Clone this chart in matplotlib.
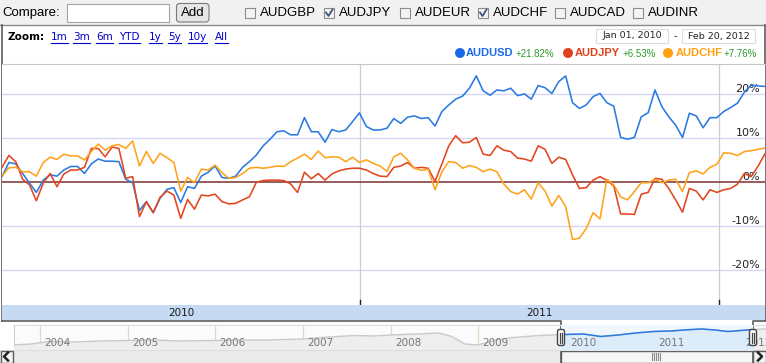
import matplotlib
matplotlib.use('Agg')
import matplotlib.pyplot as plt
import matplotlib.transforms as mtrans
from matplotlib.patches import Rectangle, Circle, FancyBboxPatch
import numpy as np
import pandas as pd

W, H = 766, 363

# weekly % change since Jan 01, 2010
weeks = pd.date_range('2010-01-01', periods=112, freq='7D')
audusd = [1.3, 4.5, 4.2, 2.0, -0.2, -2.3, 0.5, 1.7, 1.4, 2.8, 3.6, 3.6, 2.0, 4.2, 5.3, 4.8, 4.8, 4.7, 0.7,
          -0.1, -6.4, -4.4, -6.9, -3.6, -1.6, -1.2, -4.6, -1.0, -1.4, 1.4, 2.3, 3.7, 1.1, 0.9, 1.4, 3.4, 4.7, 6.2,
          8.3, 9.8, 11.5, 11.7, 10.8, 10.8, 14.7, 11.5, 11.5, 9.1, 12.0, 11.5, 11.9, 13.8, 15.8, 12.7, 11.9, 11.9, 12.3,
          14.5, 13.4, 14.8, 15.1, 14.5, 14.7, 12.8, 16.1, 17.6, 18.9, 19.6, 21.4, 24.2, 20.8, 19.8, 21.0, 20.8, 21.4,
          19.7, 20.1, 18.9, 22.0, 21.5, 20.2, 22.9, 24.2, 18.1, 16.8, 17.6, 19.5, 20.2, 18.1, 17.3, 10.2, 9.8, 10.2, 14.9,
          15.8, 21.0, 17.2, 14.9, 13.0, 10.2, 15.7, 15.1, 12.4, 14.7, 14.7, 16.1, 17.0, 18.0, 20.5, 22.1, 21.9, 21.8]
audjpy = [3.4, 6.1, 4.7, 0.7, -0.6, -4.2, -0.2, 2.0, -1.0, 1.9, 2.8, 2.8, 3.4, 7.7, 7.7, 5.8, 8.0, 7.7, 0.9,
          1.3, -7.8, -4.4, -6.9, -3.4, -2.0, -2.9, -8.2, -3.9, -6.1, -2.9, -3.1, -2.7, -4.4, -4.9, -4.8, -4.0, -3.3, 0.0,
          0.4, 0.5, 0.5, 0.4, -0.4, -2.3, 2.3, 0.8, 2.0, 0.5, 1.9, 2.6, 3.0, 3.2, 3.2, 2.8, 2.0, 1.4, 1.3,
          3.4, 3.7, 4.5, 3.2, 3.4, 3.2, 0.2, 4.2, 8.3, 10.6, 9.0, 9.1, 10.2, 6.4, 6.1, 8.3, 7.3, 7.0,
          5.5, 5.3, 4.8, 8.3, 7.5, 4.3, 5.7, 5.2, 1.7, -1.4, -1.2, 0.5, 1.3, 0.4, -0.8, -7.2, -7.2, -7.3, -2.7,
          -2.3, 0.9, 0.7, -1.4, -4.0, -6.8, -1.4, -2.0, -4.0, -1.7, -2.3, -1.7, -1.4, -0.4, 2.0, 1.3, 3.7, 6.5]
audchf = [1.4, 3.3, 3.4, 2.4, 2.4, 1.4, 4.5, 5.7, 5.2, 6.4, 6.0, 6.0, 5.1, 7.0, 8.7, 7.3, 8.3, 8.6, 7.7,
          9.4, 3.7, 7.0, 4.3, 6.6, 5.6, 4.5, -2.0, 1.1, -0.1, 3.0, 2.8, 3.9, 2.2, 0.9, 1.1, 2.0, 3.2, 3.4,
          3.2, 3.4, 3.7, 3.6, 4.7, 5.5, 6.4, 5.2, 7.1, 5.6, 5.8, 5.7, 4.7, 5.7, 4.5, 5.1, 4.3, 3.7, 2.5,
          5.8, 6.6, 5.1, 3.2, 2.7, 3.0, -1.7, 2.4, 4.7, 4.5, 3.2, 3.8, 3.4, 2.4, 3.0, 2.4, -0.4, -2.1,
          -2.7, -1.7, -3.8, -0.1, -2.0, -5.4, -3.0, -5.5, -13.0, -12.7, -10.5, -6.9, -8.3, 0.7, -0.6, -3.3, -4.0, -2.1, -0.1,
          -0.1, 0.7, -0.1, 0.5, 0.7, -2.1, 2.2, 2.6, 1.9, 3.4, 4.1, 6.7, 6.6, 6.1, 7.0, 7.2, 7.5, 7.8]

series_names = ['AUDUSD', 'AUDJPY', 'AUDCHF']
series_changes = ['+21.82%', '+6.53%', '+7.76%']
line_colors = ['#2a7ae2', '#e3461f', '#ffa21c']
dot_colors = ['#1a6ae8', '#e0401a', '#ffa010']

compare_pairs = ['AUDGBP', 'AUDJPY', 'AUDEUR', 'AUDCHF', 'AUDCAD', 'AUDINR']
compare_checked = [False, True, False, True, False, False]
zoom_links = ['1m', '3m', '6m', 'YTD', '1y', '5y', '10y', 'All']
y_ticks = [20, 10, 0, -10, -20]
range_from, range_to = 'Jan 01, 2010', 'Feb 20, 2012'

# overview strip (AUDUSD level, decimal years)
nav_t = [2003.70, 2003.9, 2004.1, 2004.4, 2004.7, 2005.0, 2005.3, 2005.6, 2006.0, 2006.3, 2006.6,
         2007.0, 2007.3, 2007.6, 2007.8, 2008.0, 2008.3, 2008.55, 2008.7, 2008.85, 2009.0, 2009.2,
         2009.4, 2009.7, 2010.0, 2010.2, 2010.4, 2010.6, 2010.8, 2011.0, 2011.2, 2011.35, 2011.55,
         2011.7, 2011.85, 2012.0, 2012.15, 2012.285]
nav_level = [0.71, 0.73, 0.785, 0.774, 0.796, 0.807, 0.817, 0.796, 0.807, 0.817, 0.817,
             0.839, 0.883, 0.915, 0.904, 0.926, 0.948, 0.97, 0.893, 0.73, 0.709, 0.817,
             0.872, 0.915, 0.937, 0.948, 0.893, 0.926, 0.97, 1.002, 1.013, 1.035, 1.057,
             1.035, 1.002, 1.024, 1.046, 1.057]
nav_years = list(range(2004, 2013))

fig = plt.figure(figsize=(W / 100, H / 100), dpi=100)
fig.patch.set_facecolor('white')

def px(x0, y0, w, h):
    # figure fraction rect from top-left pixel box
    return [x0 / W, 1 - (y0 + h) / H, w / W, h / H]

bg = fig.add_axes([0, 0, 1, 1])
bg.set_xlim(0, W)
bg.set_ylim(H, 0)
bg.axis('off')

sans = 'Liberation Sans'
verd = 'DejaVu Sans'

# top toolbar
bg.add_patch(Rectangle((0, 0), W, 24.5, fc='#f1f1f1', ec='none'))
bg.text(2, 13, 'Compare:', fontsize=9.5, family=sans, va='center', ha='left')
bg.add_patch(Rectangle((67, 3.5), 102, 18.5, fc='white', ec='#a4a4a4', lw=0.8))
bg.add_patch(FancyBboxPatch((176.5, 3.5), 32.5, 18.5, boxstyle='round,pad=0,rounding_size=3',
                            fc='#e6e6e6', ec='#7a7a7a', lw=0.8))
bg.text(192.8, 13, 'Add', fontsize=9.5, family=sans, va='center', ha='center')
box_x = [245, 324, 400, 478, 555, 633]
for bx, name, chk in zip(box_x, compare_pairs, compare_checked):
    bg.add_patch(Rectangle((bx, 8), 10, 10, fc='#f4f4f4', ec='#8c8c8c', lw=0.8))
    if chk:
        bg.plot([bx + 2, bx + 4.5, bx + 8.5], [12.5, 16, 9.5], color='#40527e', lw=1.3)
    bg.text(bx + 14.5, 13, name, fontsize=9.5, family=sans, va='center', ha='left')

# chart panel border
bc = '#5c5c5c'
bg.plot([0, W], [24.5, 24.5], color='#8a8a8a', lw=1)
bg.plot([1.5, 1.5], [24.5, 320.5], color=bc, lw=1.2)
bg.plot([765, 765], [24.5, 320.5], color=bc, lw=1.2)
bg.plot([1.5, 561, 561], [320.5, 320.5, H], color=bc, lw=1.2)
bg.plot([753, 753, 765], [H, 320.5, 320.5], color=bc, lw=1.2)

# zoom row
bg.text(7, 37.5, 'Zoom:', fontsize=7.5, family=verd, weight='bold', va='center', ha='left')
link_x = [51, 73, 96, 119, 149, 168, 188, 215]
link_texts = []
for lx, lab in zip(link_x, zoom_links):
    link_texts.append(bg.text(lx, 37.5, lab, fontsize=7.5, family=verd, color='#0000cc',
                              va='center', ha='left'))

# date range boxes
bg.add_patch(Rectangle((596, 29), 72, 13.5, fc='white', ec='#dddddd', lw=0.8))
bg.add_patch(Rectangle((682, 29), 73, 13.5, fc='white', ec='#dddddd', lw=0.8))
bg.text(632, 36, range_from, fontsize=6.8, family=verd, va='center', ha='center', color='#222222')
bg.text(718.5, 36, range_to, fontsize=6.8, family=verd, va='center', ha='center', color='#222222')
bg.text(675, 36, '-', fontsize=7, family=verd, va='center', ha='center', color='#222222')

# legend
dot_x = [460, 568, 668]
name_x = [466, 575, 676]
chg_x = [516, 623, 724]
for dx, nx, cx, nm, ch, dc in zip(dot_x, name_x, chg_x, series_names, series_changes, dot_colors):
    bg.add_patch(Circle((dx, 53), 5, fc=dc, ec='none'))
    bg.text(nx, 53.5, nm, fontsize=8, family=sans, weight='bold', color=dc, va='center', ha='left')
    bg.text(cx, 54, ch, fontsize=7, family=sans, color='#2e9a2e', va='center', ha='left')

# main chart
ax = fig.add_axes(px(2, 64, 763, 241))
ax.set_facecolor('white')
ax.set_xlim(weeks[0], weeks[-1])
ax.set_ylim(-27.9, 26.9)
for s in ['left', 'right', 'bottom']:
    ax.spines[s].set_visible(False)
ax.spines['top'].set_color('#c8c8c8')
ax.set_xticks([])
ax.set_yticks([])
for v in y_ticks:
    if v == 0:
        ax.axhline(v, color='#7b3030', lw=1.1, zorder=2)
    else:
        ax.axhline(v, color='#d6d6f5', lw=1, zorder=1)
    ax.annotate(f'{v}%', xy=(1, v), xycoords=('axes fraction', 'data'), xytext=(-5, 5),
                textcoords='offset pixels', ha='right', va='center', fontsize=8, family=verd,
                color='#222222', zorder=1)
year_lines = pd.to_datetime(['2011-01-01', '2012-01-01'])
for d in year_lines:
    ax.axvline(d, color='#cccccc', lw=0.9, zorder=1)
    ax.plot([d, d], [-27.9, -26.7], color='#222222', lw=1, zorder=2)
for vals, col in zip([audusd, audjpy, audchf], line_colors):
    ax.plot(weeks, vals, color=col, lw=1.15, zorder=3)

# year band
band = fig.add_axes(px(2, 305, 763, 15))
band.set_facecolor('#c6dbf3')
band.set_xlim(ax.get_xlim())
band.set_ylim(0, 1)
band.set_xticks([])
band.set_yticks([])
for s in band.spines.values():
    s.set_visible(False)
x0 = ax.get_xlim()[0]
edges = [x0] + [matplotlib.dates.date2num(d) for d in year_lines] + [ax.get_xlim()[1]]
for lab, a, b in zip(['2010', '2011'], edges[:-1], edges[1:]):
    band.text((a + b) / 2, 0.45, lab, fontsize=7.5, family=verd, ha='center', va='center', color='#1a1a1a')

# overview strip
bg.add_patch(Rectangle((14, 325), W - 14, 25, fc='#fbfbfb', ec='none'))
bg.plot([14, W], [325, 325], color='#dddddd', lw=0.8)
bg.plot([14, 14], [325, 350], color='#cfcfcf', lw=0.8)
nav = fig.add_axes(px(14, 325, W - 14, 25))
nav.patch.set_alpha(0)
nav.set_xlim(2003.703, 2012.285)
nav.set_ylim(0.6, 1.143)
nav.axis('off')
nav_tr = mtrans.blended_transform_factory(nav.transData, nav.transAxes)
for yr in nav_years:
    nav.axvline(yr, color='#cde3c5', lw=0.9, zorder=1)
    nav.text(yr + 0.05, 0.29, str(yr), fontsize=7.5, family=verd, color='#777777',
             ha='left', va='center', zorder=4, transform=nav_tr)
    for q in [0.25, 0.5, 0.75]:
        nav.plot([yr + q - 1, yr + q - 1], [0.6, 0.65], color='#c4c4c4', lw=0.8, zorder=1)
nav.fill_between(nav_t, 0.6, nav_level, color='#eeeeee', lw=0, zorder=2)
nav.plot(nav_t, nav_level, color='#c9c9c9', lw=1, zorder=3)
sel0 = 2003.703 + (561 - 14) / 87.6
sel1 = 2003.703 + (753 - 14) / 87.6
nav.add_patch(Rectangle((sel0, 0.6), sel1 - sel0, 0.6, fc='#f0f8fe', ec='none', zorder=1.5))
clip = Rectangle((sel0, 0.5), sel1 - sel0, 1, transform=nav.transData)
f2 = nav.fill_between(nav_t, 0.6, nav_level, color='#dcecfb', lw=0, zorder=2.5)
l2, = nav.plot(nav_t, nav_level, color='#2a7ae2', lw=1.1, zorder=3.5)
f2.set_clip_path(clip)
l2.set_clip_path(clip)

# scrollbar
bg.add_patch(Rectangle((0, 350), W, 13, fc='#ebebeb', ec='none'))
bg.plot([0, W], [350, 350], color='#cfcfcf', lw=0.8)
bg.add_patch(Rectangle((561, 350.5), 192, 12.5, fc='#f6f6f6', ec=bc, lw=1))
for gx in np.arange(652, 661, 2):
    bg.plot([gx, gx], [353, 359.5], color='#8a8a8a', lw=0.8)
bg.add_patch(Rectangle((0.5, 350.5), 12.5, 12.5, fc='#f2f2f2', ec=bc, lw=1))
bg.plot([8, 4, 8], [352.5, 356.5, 360.5], color='#222222', lw=1.8)

# handles and right button on top
fg = fig.add_axes([0, 0, 1, 1])
fg.set_xlim(0, W)
fg.set_ylim(H, 0)
fg.axis('off')
fg.add_patch(Rectangle((753, 350.5), 12.5, 12.5, fc='#f2f2f2', ec=bc, lw=1))
fg.plot([758, 762, 758], [352.5, 356.5, 360.5], color='#222222', lw=1.8)
for hx in [561, 753]:
    fg.add_patch(FancyBboxPatch((hx - 3.5, 329.5), 7, 16, boxstyle='round,pad=0,rounding_size=2',
                                fc='white', ec='#444444', lw=1))
    fg.plot([hx - 1, hx - 1], [332.5, 343], color='#444444', lw=0.9)
    fg.plot([hx + 1, hx + 1], [332.5, 343], color='#444444', lw=0.9)

# underline zoom links
fig.canvas.draw()
for t in link_texts:
    bb = t.get_window_extent()
    bg.plot([bb.x0, bb.x1], [42.5, 42.5], color='#0000cc', lw=0.8)

fig.savefig('out.png', dpi=100)
